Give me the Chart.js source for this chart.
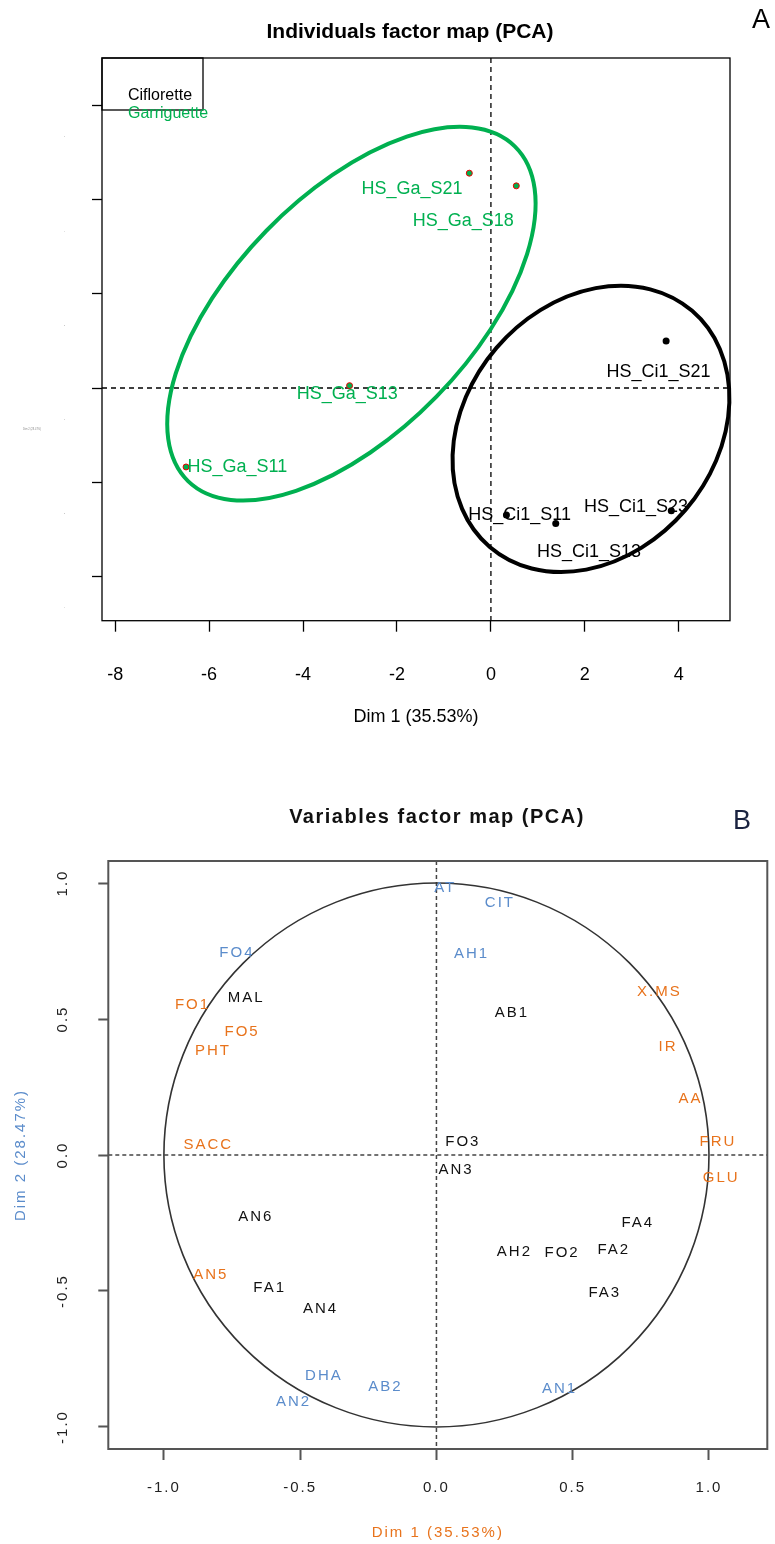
<!DOCTYPE html>
<html>
<head>
<meta charset="utf-8">
<script src="https://cdn.jsdelivr.net/npm/chart.js@4.4.1/dist/chart.umd.min.js"></script>
<style>
  body { margin: 0; background: #fff; }
  canvas { display: block; }
</style>
</head>
<body>
<canvas id="indChart" width="775" height="760"></canvas>
<canvas id="varChart" width="775" height="784"></canvas>
<script>
// ---- data: individuals map (A)
const indXTicks = [-8, -6, -4, -2, 0, 2, 4];
const indYTicks = [-4, -2, 0, 2, 4, 6];
const groups = ['Ciflorette', 'Garriguette'];

const ciNames = ['HS_Ci1_S21', 'HS_Ci1_S11', 'HS_Ci1_S13', 'HS_Ci1_S23'];
const ciX = [3.73, 0.33, 1.38, 3.84];
const ciY = [1.00, -2.70, -2.88, -2.61];
const ciLabelX = [3.57, 0.61, 2.09, 3.09];
const ciLabelY = [0.33, -2.70, -3.49, -2.53];

const gaNames = ['HS_Ga_S21', 'HS_Ga_S18', 'HS_Ga_S13', 'HS_Ga_S11'];
const gaX = [-0.46, 0.54, -3.01, -6.49];
const gaY = [4.57, 4.30, 0.05, -1.68];
const gaLabelX = [-1.68, -0.59, -3.06, -5.40];
const gaLabelY = [4.23, 3.55, -0.13, -1.68];

// confidence ellipses (Ciflorette, Garriguette)
const ellCX = [2.13, -2.97];
const ellCY = [-0.87, 1.58];
const ellA = [3.31, 4.98];
const ellB = [2.65, 2.53];
const ellAngle = [49.4, 45.7];

// ---- data: variables map (B)
const varTicks = [-1, -0.5, 0, 0.5, 1];
const varTickLabels = ['-1.0', '-0.5', '0.0', '0.5', '1.0'];
const varNames = ['FO4', 'MAL', 'FO1', 'FO5', 'PHT', 'SACC', 'AN6', 'AN5', 'FA1', 'AN4',
  'DHA', 'AB2', 'AN2', 'AN1', 'AT', 'CIT', 'AH1', 'X.MS', 'AB1', 'IR',
  'AA', 'FO3', 'FRU', 'AN3', 'GLU', 'FA4', 'AH2', 'FO2', 'FA2', 'FA3'];
const varX = [-0.732, -0.698, -0.895, -0.713, -0.82, -0.837, -0.663, -0.828, -0.612, -0.425,
  -0.413, -0.187, -0.524, 0.452, 0.032, 0.233, 0.129, 0.818, 0.277, 0.85,
  0.932, 0.097, 1.033, 0.072, 1.045, 0.739, 0.286, 0.461, 0.651, 0.618];
const varY = [0.742, 0.576, 0.551, 0.453, 0.382, 0.037, -0.229, -0.439, -0.49, -0.567,
  -0.8125, -0.854, -0.907, -0.86, 0.984, 0.928, 0.739, 0.6, 0.521, 0.396,
  0.208, 0.049, 0.049, -0.055, -0.083, -0.251, -0.355, -0.361, -0.349, -0.508];
const varGroup = ['b', 'k', 'o', 'o', 'o', 'o', 'k', 'o', 'k', 'k',
  'b', 'b', 'b', 'b', 'b', 'b', 'b', 'o', 'k', 'o',
  'o', 'k', 'o', 'k', 'o', 'k', 'k', 'k', 'k', 'k'];

// ---- styles
const GREEN = '#00b050';
const BLUE = '#5b8ccb';
const ORANGE = '#e8731c';
const groupColor = { b: BLUE, o: ORANGE, k: '#111' };

Chart.defaults.font.family = "'Liberation Sans', Arial, sans-serif";
Chart.defaults.animation = false;

function pts(xs, ys) { return xs.map((x, i) => ({ x: x, y: ys[i] })); }

// draws text of the "label" datasets at their element positions
function drawTextLabels(chart, font) {
  const ctx = chart.ctx;
  chart.data.datasets.forEach((ds, i) => {
    if (!ds.textLabels) return;
    const meta = chart.getDatasetMeta(i);
    ctx.save();
    ctx.font = font;
    ctx.fillStyle = ds.textColor;
    ctx.textAlign = 'center';
    ctx.textBaseline = 'middle';
    meta.data.forEach((el, j) => ctx.fillText(ds.textLabels[j], el.x, el.y));
    ctx.restore();
  });
}

function dashedZeroLines(chart, color, width, dash) {
  const { ctx, chartArea: a, scales: { x, y } } = chart;
  const x0 = x.getPixelForValue(0), y0 = y.getPixelForValue(0);
  ctx.save();
  ctx.strokeStyle = color;
  ctx.lineWidth = width;
  ctx.setLineDash(dash);
  ctx.beginPath();
  ctx.moveTo(x0, a.top); ctx.lineTo(x0, a.bottom);
  ctx.moveTo(a.left, y0); ctx.lineTo(a.right, y0);
  ctx.stroke();
  ctx.restore();
}

const indDecor = {
  id: 'indDecor',
  beforeDatasetsDraw(chart) {
    const { ctx, scales: { x, y } } = chart;
    dashedZeroLines(chart, '#000', 1.3, [5, 4]);
    const cols = ['#000', GREEN];
    ellCX.forEach((cx, i) => {
      const px = x.getPixelForValue(cx), py = y.getPixelForValue(ellCY[i]);
      const ux = x.getPixelForValue(1) - x.getPixelForValue(0);
      ctx.save();
      ctx.strokeStyle = cols[i];
      ctx.lineWidth = 4;
      ctx.beginPath();
      ctx.ellipse(px, py, ellA[i] * ux, ellB[i] * ux, -ellAngle[i] * Math.PI / 180, 0, Math.PI * 2);
      ctx.stroke();
      ctx.restore();
    });
  },
  afterDatasetsDraw(chart) {
    const { ctx, chartArea: a } = chart;
    drawTextLabels(chart, '18px "Liberation Sans", Arial, sans-serif');
    ctx.save();
    ctx.strokeStyle = '#000';
    ctx.lineWidth = 1.3;
    ctx.strokeRect(a.left, a.top, a.right - a.left, a.bottom - a.top);
    // legend
    ctx.strokeRect(a.left, a.top, 101, 52);
    ctx.font = '16px "Liberation Sans", Arial, sans-serif';
    ctx.textBaseline = 'middle';
    ctx.textAlign = 'left';
    ctx.fillStyle = '#000';
    ctx.fillText(groups[0], a.left + 26, a.top + 38);
    ctx.fillStyle = GREEN;
    ctx.fillText(groups[1], a.left + 26, a.top + 56);
    // titles
    ctx.fillStyle = '#000';
    ctx.textAlign = 'center';
    ctx.font = 'bold 21px "Liberation Sans", Arial, sans-serif';
    ctx.fillText('Individuals factor map (PCA)', 410, 32);
    ctx.font = '27px "Liberation Sans", Arial, sans-serif';
    ctx.fillText('A', 761, 21);
    // tiny y axis title
    ctx.fillStyle = '#888';
    ctx.font = '2.6px "Liberation Sans", Arial, sans-serif';
    ctx.fillText('Dim 2 (28.47%)', 32, 429);
    ctx.restore();
  }
};

new Chart(document.getElementById('indChart'), {
  type: 'scatter',
  data: {
    datasets: [
      { label: groups[0], data: pts(ciX, ciY), pointRadius: 3.5, backgroundColor: '#000', borderColor: '#000', borderWidth: 0 },
      { label: groups[1], data: pts(gaX, gaY), pointRadius: 3, backgroundColor: GREEN, borderColor: '#e00', borderWidth: 1 },
      { label: 'ci labels', data: pts(ciLabelX, ciLabelY), pointRadius: 0, textLabels: ciNames, textColor: '#000' },
      { label: 'ga labels', data: pts(gaLabelX, gaLabelY), pointRadius: 0, textLabels: gaNames, textColor: GREEN }
    ]
  },
  options: {
    responsive: false,
    layout: { padding: { top: 58, right: 45, left: 0, bottom: 0 } },
    plugins: { legend: { display: false }, tooltip: { enabled: false } },
    scales: {
      x: {
        type: 'linear', min: -8.28, max: 5.09,
        afterBuildTicks: s => { s.ticks = indXTicks.map(v => ({ value: v })); },
        afterFit: s => { s.height = 139.3; },
        grid: { drawOnChartArea: false, tickLength: 11, tickColor: '#000', tickWidth: 1.3 },
        border: { display: false },
        ticks: { autoSkip: false, maxRotation: 0, padding: 33, color: '#000', font: { size: 18 } },
        title: { display: true, text: 'Dim 1 (35.53%)', color: '#000', font: { size: 18 }, padding: { top: 0, bottom: 32 } }
      },
      y: {
        type: 'linear', min: -4.95, max: 7.02,
        afterBuildTicks: s => { s.ticks = indYTicks.map(v => ({ value: v })); },
        afterFit: s => { s.width = 102; },
        grid: { drawOnChartArea: false, tickLength: 10, tickColor: '#000', tickWidth: 1.3 },
        border: { display: false },
        ticks: { autoSkip: false, padding: 27, labelOffset: 31, color: '#999', font: { size: 2 } }
      }
    }
  },
  plugins: [indDecor]
});

// ---- variables map
const varDecor = {
  id: 'varDecor',
  beforeDraw(chart) { chart.ctx.letterSpacing = '2px'; },
  beforeDatasetsDraw(chart) {
    const { ctx, scales: { x, y } } = chart;
    dashedZeroLines(chart, '#444', 1.5, [4, 3]);
    const x0 = x.getPixelForValue(0), y0 = y.getPixelForValue(0);
    ctx.save();
    ctx.strokeStyle = '#333';
    ctx.lineWidth = 1.6;
    ctx.beginPath();
    ctx.ellipse(x0, y0, x.getPixelForValue(1) - x0, y0 - y.getPixelForValue(1), 0, 0, Math.PI * 2);
    ctx.stroke();
    ctx.restore();
  },
  afterDatasetsDraw(chart) {
    const { ctx, chartArea: a } = chart;
    ctx.letterSpacing = '2px';
    drawTextLabels(chart, '15px "Liberation Sans", Arial, sans-serif');
    ctx.save();
    ctx.strokeStyle = '#555';
    ctx.lineWidth = 2;
    ctx.strokeRect(a.left, a.top, a.right - a.left, a.bottom - a.top);
    ctx.fillStyle = '#111';
    ctx.textAlign = 'center';
    ctx.textBaseline = 'middle';
    ctx.letterSpacing = '1.5px';
    ctx.font = 'bold 20px "Liberation Sans", Arial, sans-serif';
    ctx.fillText('Variables factor map (PCA)', 437, 57);
    ctx.letterSpacing = '0px';
    ctx.fillStyle = '#1a2340';
    ctx.font = '27px "Liberation Sans", Arial, sans-serif';
    ctx.fillText('B', 742, 62);
    ctx.restore();
  }
};

const varGroups = ['b', 'o', 'k'];
new Chart(document.getElementById('varChart'), {
  type: 'scatter',
  data: {
    datasets: varGroups.map(g => {
      const idx = varNames.map((n, i) => i).filter(i => varGroup[i] === g);
      return {
        label: g,
        data: idx.map(i => ({ x: varX[i], y: varY[i] })),
        pointRadius: 0,
        textLabels: idx.map(i => varNames[i]),
        textColor: groupColor[g]
      };
    })
  },
  options: {
    responsive: false,
    layout: { padding: { top: 101, right: 7.7, left: 0, bottom: 0 } },
    plugins: { legend: { display: false }, tooltip: { enabled: false } },
    scales: {
      x: {
        type: 'linear', min: -1.204, max: 1.214,
        afterBuildTicks: s => { s.ticks = varTicks.map(v => ({ value: v })); },
        afterFit: s => { s.height = 95; },
        grid: { drawOnChartArea: false, tickLength: 11, tickColor: '#555', tickWidth: 2 },
        border: { display: false },
        ticks: { autoSkip: false, maxRotation: 0, padding: 19, color: '#222', font: { size: 15 },
          callback: (v, i) => varTickLabels[i] },
        title: { display: true, text: 'Dim 1 (35.53%)', color: ORANGE, font: { size: 15 }, padding: { top: 0, bottom: 2 } }
      },
      y: {
        type: 'linear', min: -1.081, max: 1.081,
        afterBuildTicks: s => { s.ticks = varTicks.map(v => ({ value: v })); },
        afterFit: s => { s.width = 108.3; },
        grid: { drawOnChartArea: false, tickLength: 10, tickColor: '#555', tickWidth: 2 },
        border: { display: false },
        ticks: { autoSkip: false, minRotation: 90, maxRotation: 90, crossAlign: 'center', padding: 23,
          color: '#222', font: { size: 15 }, callback: (v, i) => varTickLabels[i] },
        title: { display: true, text: 'Dim 2 (28.47%)', color: BLUE, font: { size: 15 }, padding: { top: 12, bottom: 0 } }
      }
    }
  },
  plugins: [varDecor]
});
</script>
</body>
</html>
